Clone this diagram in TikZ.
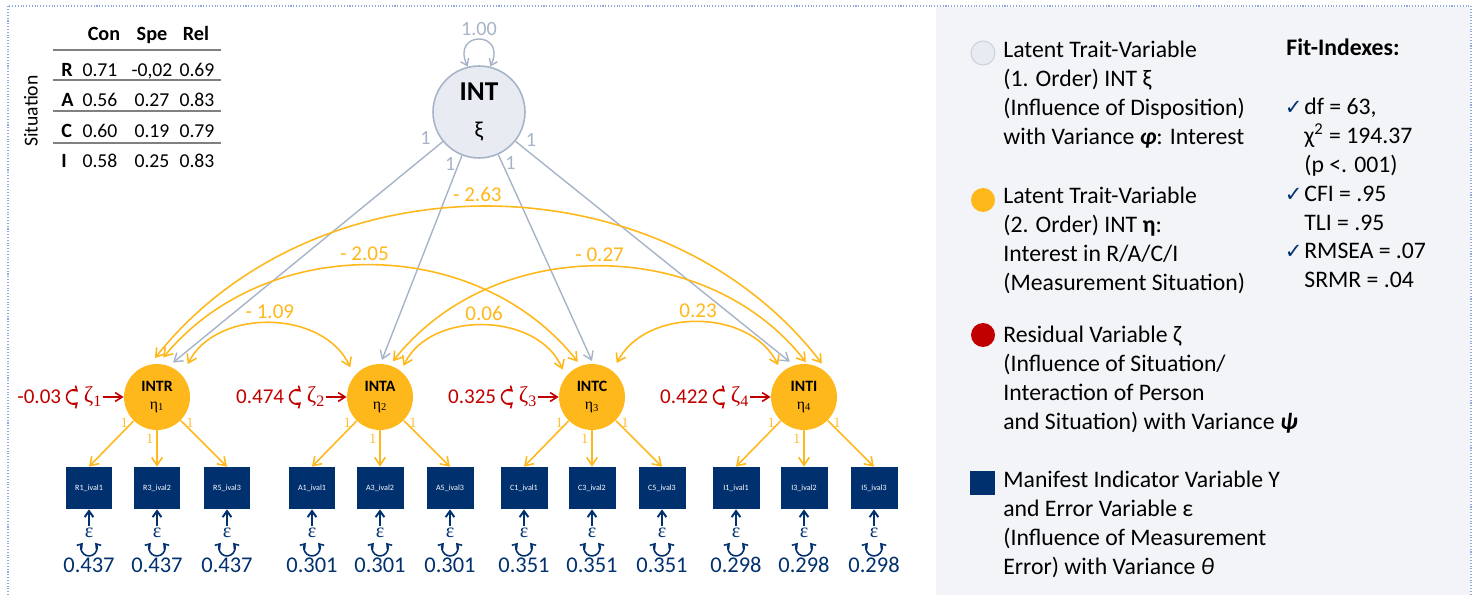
\documentclass[tikz,border=0pt]{standalone}
\usepackage{fontspec}
\setmainfont{Carlito}
\newfontfamily\dejavu{DejaVu Sans}
\newfontfamily\grk{Liberation Serif}
\usetikzlibrary{arrows.meta,calc,positioning}

\definecolor{intorange}{HTML}{FFB81C}
\definecolor{intgray}{HTML}{A7B4C7}
\definecolor{intfill}{HTML}{E8EBF1}
\definecolor{resred}{HTML}{C00000}
\definecolor{indnavy}{HTML}{00306E}
\definecolor{panelbg}{HTML}{F3F4F8}
\definecolor{framebl}{HTML}{8EA9DB}
\definecolor{rulegray}{HTML}{808080}

\newcommand{\chk}{{\dejavu\color{indnavy}\fontsize{12}{12}\selectfont ✓}\hspace{1pt}}

\tikzset{
  trait/.style={circle, draw=intgray, fill=intfill, line width=0.9pt, minimum size=1.84cm, inner sep=0pt, align=center, font=\fontsize{15.5}{17}\selectfont},
  latent/.style={circle, fill=intorange, minimum size=1.32cm, inner sep=0pt, align=center, font=\fontsize{9}{10}\selectfont},
  indic/.style={fill=indnavy, minimum width=0.94cm, minimum height=0.84cm, inner sep=0pt, text=white, font=\fontsize{4.6}{5}\selectfont},
  path0/.style={draw=intgray, line width=0.8pt, -{Straight Barb[length=4.5pt,width=6pt]}},
  loop0/.style={draw=intgray, line width=0.8pt, {Straight Barb[length=3.5pt,width=5pt]}-{Straight Barb[length=3.5pt,width=5pt]}},
  path1/.style={draw=intorange, line width=0.9pt, -{Straight Barb[length=4.5pt,width=6pt]}},
  cov/.style={draw=intorange, line width=0.9pt, {Straight Barb[length=4.5pt,width=6pt]}-{Straight Barb[length=4.5pt,width=6pt]}},
  covlbl/.style={text=intorange, font=\fontsize{12}{14}\selectfont, inner sep=2pt},
  one0/.style={text=intgray, font=\fontsize{11.5}{13}\selectfont, inner sep=1.5pt},
  one1/.style={text=intorange, font=\fontsize{8.5}{10}\selectfont, inner sep=1.5pt},
  zeta/.style={text=resred, inner sep=0pt, font=\fontsize{13}{14}\selectfont\grk},
  resval/.style={text=resred, inner sep=0pt, anchor=east, font=\fontsize{12}{14}\selectfont},
  res/.style={draw=resred, line width=0.9pt, -{Straight Barb[length=4pt,width=5pt]}},
  resloop/.style={draw=resred, line width=0.9pt, {Straight Barb[length=2.5pt,width=3.5pt]}-{Straight Barb[length=2.5pt,width=3.5pt]}},
  eps/.style={text=indnavy, inner sep=1pt, font=\fontsize{11.5}{12}\selectfont\grk},
  err/.style={draw=indnavy, line width=1.1pt, -{Straight Barb[length=3.5pt,width=5pt]}},
  errloop/.style={draw=indnavy, line width=0.9pt, {Straight Barb[length=2.5pt,width=3.5pt]}-{Straight Barb[length=2.5pt,width=3.5pt]}},
  errval/.style={text=indnavy, inner sep=0pt, font=\fontsize{12.8}{15}\selectfont},
  tabtxt/.style={inner sep=0pt, anchor=base, font=\fontsize{11.2}{13}\selectfont},
  tabhead/.style={tabtxt, font=\fontsize{11.5}{13}\selectfont\bfseries},
  tabrule/.style={draw=rulegray, line width=0.8pt},
  legtext/.style={anchor=north west, align=left, inner sep=0pt, font=\fontsize{13.5}{16.4}\selectfont},
  legmark/.style={inner sep=0pt, minimum size=0.48cm},
}

\begin{document}
\begin{tikzpicture}[x=0.02cm, y=0.02cm]
\useasboundingbox (0,0) rectangle (1477,595);
% frame and legend panel
\fill[panelbg] (936,0) rectangle (1470,588);
\draw[framebl, densely dotted, line width=0.6pt] (8,0) -- (8,589) -- (1471,589) -- (1471,0);

% consistency / specificity / reliability table
\node[tabtxt, rotate=90, anchor=center] (sit) at (31,484) {Situation};
\node[tabhead] (hcon) at (104,554) {Con};
\node[tabhead] (hspe) at (152,554) {Spe};
\node[tabhead] (hrel) at (196,554) {Rel};
\foreach \y in {545,515,484,452} \draw[tabrule] (53,\y) -- (221,\y);
\foreach \rw/\yy/\va/\vb/\vc in {R/518/0.71/{-0,02}/0.69, A/488/0.56/0.27/0.83, C/457/0.60/0.19/0.79, I/427/0.58/0.25/0.83} {
  \node[tabhead, anchor=base west] (r\rw) at (61,\yy) {\rw};
  \node[tabtxt] (a\rw) at (100,\yy) {\va};
  \node[tabtxt] (b\rw) at (152,\yy) {\vb};
  \node[tabtxt] (c\rw) at (197,\yy) {\vc};
}

% trait and state variables
\node[trait] (INT) at (479,483) {\textbf{INT}\\[4pt]{\fontsize{13}{13}\selectfont ξ}};
\draw[loop0] (INT.104) .. controls +(115:40) and +(65:40) .. node[above, one0, inner sep=2pt] {1.00} (INT.76);

\node[latent] (INTR) at (157,198) {\textbf{INTR}\\{\grk η\textsubscript{1}}};
\node[latent] (INTA) at (380,198) {\textbf{INTA}\\{\grk η\textsubscript{2}}};
\node[latent] (INTC) at (592,198) {\textbf{INTC}\\{\grk η\textsubscript{3}}};
\node[latent] (INTI) at (804,198) {\textbf{INTI}\\{\grk η\textsubscript{4}}};

\draw[path0] (INT) -- node[one0, pos=0, anchor=east, xshift=-5pt, yshift=2pt] {1} ($(INTR)+(65:38)$);
\draw[path0] (INT) -- node[one0, pos=0.04, anchor=east] {1} ($(INTA)+(87:37)$);
\draw[path0] (INT) -- node[one0, pos=0.04, anchor=west] {1} ($(INTC)+(90:36)$);
\draw[path0] (INT) -- node[one0, pos=0, anchor=west, xshift=4pt, yshift=1pt] {1} ($(INTI)+(112:38)$);

% covariances
\draw[cov] ($(INTR)+(47:45)$) to[bend left=64] node[above, covlbl] {- 1.09} ($(INTA)+(135:42)$);
\draw[cov] ($(INTA)+(53:39)$) to[bend left=66] node[above, covlbl] {0.06} ($(INTC)+(137:40)$);
\draw[cov] ($(INTC)+(54:42)$) to[bend left=63] node[above, covlbl] {0.23} ($(INTI)+(129:41)$);
\draw[cov] ($(INTR)+(81:40)$) to[bend left=51] node[above, covlbl, xshift=-4pt] {- 2.05} ($(INTC)+(112:38)$);
\draw[cov] ($(INTA)+(70:38)$) to[bend left=52] node[above, covlbl] {- 0.27} ($(INTI)+(87:35)$);
\draw[cov] ($(INTR)+(93:39)$) to[bend left=52] node[above, covlbl, xshift=-7pt] {- 2.63} ($(INTI)+(62:38)$);

% residuals
\foreach \lat/\k/\val in {INTR/1/-0.03, INTA/2/0.474, INTC/3/0.325, INTI/4/0.422} {
  \node[zeta] (z\k) at ($(\lat)+(-64,0)$) {ζ\textsubscript{\k}};
  \draw[res] (z\k) -- (\lat);
  \draw[resloop] ($(z\k.west)+(-10,0)$) ++(50:7) arc[start angle=50, end angle=310, radius=3.97pt];
  \node[resval] (v\k) at ($(z\k.west)+(-22,0)$) {\val};
}

% indicators with errors
\foreach \lat/\sit/\evar in {INTR/R/0.437, INTA/A/0.301, INTC/C/0.351, INTI/I/0.298} {
  \foreach \j/\dx/\lp/\anc in {1/-68/0.05/east, 2/0/0.25/east, 3/70/0.05/west} {
    \pgfmathtruncatemacro{\itm}{2*\j-1}
    \node[indic] (\sit\itm) at ($(\lat)+(\dx,-91)$) {\sit\itm\_ival\j};
    \draw[path1] (\lat) -- node[one1, pos=\lp, anchor=\anc] {$1$} (\sit\itm.north);
    \node[eps] (e\sit\itm) at ($(\sit\itm)+(0,-45)$) {ε};
    \draw[err] (e\sit\itm) -- (\sit\itm);
    \draw[errloop] ($(e\sit\itm)+(0,-15)$) ++(140:8) arc[start angle=140, end angle=400, radius=4.54pt];
    \node[errval] (t\sit\itm) at ($(e\sit\itm)+(0,-32)$) {\evar};
  }
}

% legend
\node[legmark, circle, fill=intfill, draw=intgray!60, line width=0.6pt] (mk1) at (983,542) {};
\node[legtext] (lg1) at (1003,554) {Latent Trait-Variable\\(1. Order) INT ξ\\(Influence of Disposition)\\with Variance \textbf{\textit{φ}}: Interest};
\node[legmark, circle, fill=intorange] (mk2) at (983,395) {};
\node[legtext] (lg2) at (1003,408) {Latent Trait-Variable\\(2. Order) INT \textbf{η}:\\Interest in R/A/C/I\\(Measurement Situation)};
\node[legmark, circle, fill=resred] (mk3) at (983,260) {};
\node[legtext] (lg3) at (1003,269) {Residual Variable ζ\\(Influence of Situation/\\Interaction of Person\\and Situation) with Variance \textbf{\textit{ψ}}};
\node[legmark, fill=indnavy, minimum size=0.5cm] (mk4) at (982,112) {};
\node[legtext] (lg4) at (1003,124) {Manifest Indicator Variable Y\\and Error Variable ε\\(Influence of Measurement\\Error) with Variance \textit{θ}};

\node[legtext] (fithd) at (1286,556) {\textbf{Fit-Indexes:}};
\node[legtext] (fit) at (1304,497) {\llap{\chk}df = 63,\\χ\textsuperscript{2} = 194.37\\(p <. 001)\\\llap{\chk}CFI = .95\\TLI = .95\\\llap{\chk}RMSEA = .07\\SRMR = .04};
\end{tikzpicture}
\end{document}
